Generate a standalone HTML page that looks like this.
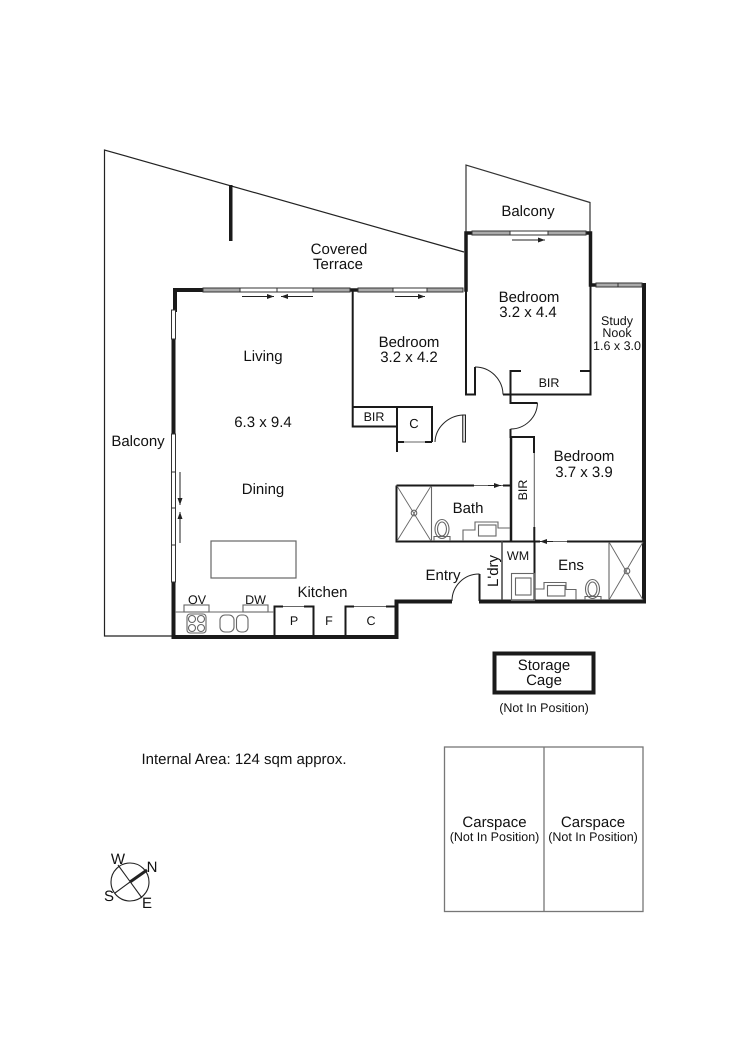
<!DOCTYPE html>
<html><head><meta charset="utf-8"><style>
html,body{margin:0;padding:0;background:#fff}
svg{display:block}
text{font-family:"Liberation Sans",Arial,sans-serif;fill:#111;text-anchor:middle;text-rendering:geometricPrecision}
.t15{font-size:15px}.t12{font-size:12.5px}
</style></head><body>
<svg width="750" height="1062" viewBox="0 0 750 1062" xmlns="http://www.w3.org/2000/svg">
<rect width="750" height="1062" fill="#fff"/>
<defs>
<marker id="ah" markerWidth="8" markerHeight="6" refX="7" refY="2.5" orient="auto" markerUnits="userSpaceOnUse"><path d="M0 0L7 2.5L0 5Z" fill="#222"/></marker>
</defs>
<!-- terraces -->
<g fill="none" stroke="#222" stroke-width="1.2">
<path d="M464 252L104.500 150V636H173"/>
<path d="M466 232V165L590 202.500V232" stroke="#333"/>
</g>
<rect x="229" y="185" width="3.500" height="56" fill="#1a1a1a"/>

<!-- thick walls -->
<g fill="none" stroke="#1a1a1a" stroke-width="4" stroke-linecap="square">
<path d="M203 290H175V310"/>
<path d="M173.500 339V434" />
<path d="M173.500 582V637H396.500V601.500H450"/>
<path d="M481 601.500H644V285H642"/>
<path d="M352 290H358" stroke-width="3.500"/>
<path d="M466 290V233H470" stroke-width="3.500"/>
<path d="M586 233H590.500V285H595" stroke-width="3.500"/>
</g>
<!-- medium walls -->
<g fill="none" stroke="#1a1a1a" stroke-width="2">
<path d="M352.700 290V426.500H397"/>
<path d="M353 407H432V442"/>
<path d="M397 407V452"/>
<path d="M466 290V394.500H475V367"/>
<path d="M503 394.500H590.500V285"/>
<path d="M510.500 394.500V371H521M580 371H590"/>
<path d="M510.500 394.500V403H537.500"/>
<path d="M510.500 429V437H534V453" />
<path d="M534.300 527V541"/>
<path d="M511 437V541" stroke-width="2.500"/>
<path d="M396.500 485.500H474M503 485.500H511"/>
<path d="M396.500 485.500V541.500H534"/>
<path d="M534 541.500H540M567 541.500H644"/>
<path d="M534.500 541V601"/>
<path d="M479.500 574V601"/>
<path d="M397 442H404M425 442H432"/>
<path d="M274.500 637V606.500H283M304 606.500H313.500V637"/>
<path d="M345.500 637V606.500H354M386 606.500H396"/>
</g>
<!-- grey thin lines -->
<g fill="none" stroke="#666" stroke-width="1.100">
<path d="M404 442H425"/>
<path d="M283 606.500H304M354 606.500H386"/>
<path d="M534.300 453V527"/>
<path d="M431.500 486V541"/>
<path d="M609 542V600"/>
<path d="M502 541V600" stroke-width="1.500" stroke="#444"/>
<path d="M175 612H274"/>
<path d="M474 485.500H503" />
<path d="M540 541.500H567"/>
<rect x="211" y="541" width="85" height="37" stroke-width="1.200"/>
<rect x="184" y="605" width="25" height="7"/>
<rect x="243" y="605" width="25" height="7"/>
<rect x="187" y="614" width="19" height="19" rx="3"/>
<circle cx="192" cy="619" r="3.500"/><circle cx="201" cy="619" r="3.500"/>
<circle cx="192" cy="628" r="3.500"/><circle cx="201" cy="628" r="3.500"/>
<rect x="220" y="615" width="14" height="17" rx="5"/>
<rect x="236.500" y="615" width="11.500" height="17" rx="4.500"/>
<path d="M397 486L431 541M431 486L397 541" stroke-width=".9"/>
<path d="M609 542L643 600M643 542L609 600" stroke-width=".9"/>
<circle cx="414" cy="513" r="2.800"/><circle cx="627" cy="571" r="2.800"/>
<ellipse cx="442" cy="529" rx="7" ry="9.500"/><ellipse cx="442" cy="529" rx="4.500" ry="7"/>
<path d="M434 541V536.500H450V541"/>
<ellipse cx="592.500" cy="589" rx="7" ry="9.500"/><ellipse cx="592.500" cy="589" rx="4.500" ry="7"/>
<path d="M585 600V596.500H601V600"/>
<path d="M463 541V530H475V522H498V528H510"/>
<rect x="478.500" y="525" width="17.500" height="11"/>
<path d="M535 589H544V582.500H566V589.500H576V600"/>
<rect x="547.500" y="585.500" width="17.500" height="10.500"/>
<rect x="511.500" y="573.500" width="23" height="27"/>
<rect x="515.500" y="578" width="15.500" height="17"/>
</g>
<!-- door arcs -->
<g fill="none" stroke="#222" stroke-width="1">
<path d="M475 367A28 28 0 0 1 503 394.500"/>
<path d="M537.500 403A27 27 0 0 1 510.500 429"/>
<path d="M463 415A30 28 0 0 0 435 442"/>
<path d="M479.500 574A27 27 0 0 0 452 601"/>
</g>
<path d="M462.700 415V442H465.500V415Z" fill="#ddd" stroke="#222" stroke-width="1"/>
<!-- windows -->
<g stroke="#333" stroke-width="1">
<g fill="#aaa">
<rect x="203" y="288" width="37" height="4"/><rect x="313" y="288" width="37" height="4"/>
<rect x="358" y="288" width="35" height="4"/><rect x="427" y="288" width="36" height="4"/>
<rect x="472" y="231" width="38" height="4"/><rect x="548" y="231" width="38" height="4"/>
<rect x="596" y="283" width="22" height="4"/><rect x="618" y="283" width="24" height="4"/>
</g>
<g fill="#fff">
<rect x="240" y="288" width="37" height="4"/><rect x="277" y="288" width="36" height="4"/>
<rect x="393" y="288" width="34" height="4"/>
<rect x="510" y="231" width="38" height="4"/>
<rect x="171.500" y="310" width="4" height="29"/>
<rect x="171.500" y="434" width="4" height="38"/><rect x="171.500" y="472" width="4" height="36"/>
<rect x="171.500" y="508" width="4" height="37"/><rect x="171.500" y="545" width="4" height="37"/>
</g>
</g>
<!-- arrows -->
<g stroke="#222" stroke-width="1" fill="none" marker-end="url(#ah)">
<path d="M242 296.500H274"/>
<path d="M313 296.500H281"/>
<path d="M395 296.500H425"/>
<path d="M512 240H545"/>
<path d="M180 472V505"/>
<path d="M180 543V512"/>
<path d="M488 485.500H501"/>
<path d="M553 541.500H540"/>
</g>
<!-- compass -->
<g fill="none" stroke="#222" stroke-width="1.100">
<circle cx="130" cy="882" r="19"/>
<path d="M118 865L142 898"/>
<path d="M115 893L130 882"/>
<path d="M130 882L147 870" stroke-width="3"/>
</g>
<!-- storage/car -->
<rect x="494.500" y="653.500" width="99" height="39" fill="none" stroke="#1a1a1a" stroke-width="4"/>
<g fill="none" stroke="#777" stroke-width="1.300">
<rect x="444.500" y="747" width="198.500" height="164.500"/>
<path d="M544 747V911.500"/>
</g>
<!-- labels -->
<g class="t15">
<text x="339" y="254">Covered</text><text x="338" y="269">Terrace</text>
<text x="528" y="216">Balcony</text>
<text x="138" y="446">Balcony</text>
<text x="263" y="361">Living</text>
<text x="263" y="427">6.3 x 9.4</text>
<text x="263" y="494">Dining</text>
<text x="322.500" y="597">Kitchen</text>
<text x="409" y="347">Bedroom</text><text x="409" y="362">3.2 x 4.2</text>
<text x="529" y="302">Bedroom</text><text x="528" y="317">3.2 x 4.4</text>
<text x="584" y="461">Bedroom</text><text x="584" y="477">3.7 x 3.9</text>
<text x="468" y="513">Bath</text>
<text x="571" y="570">Ens</text>
<text x="443" y="580">Entry</text>
<text x="544" y="670">Storage</text><text x="544" y="685">Cage</text>
<text x="494.500" y="827">Carspace</text><text x="593" y="827">Carspace</text>
<text x="244" y="764">Internal Area: 124 sqm approx.</text>
<text x="118" y="864">W</text>
<text x="152" y="872">N</text>
<text x="109" y="901">S</text>
<text x="147" y="908">E</text>
<text transform="translate(498 571) rotate(-90)">L'dry</text>
</g>
<g class="t12">
<text x="617" y="325">Study</text><text x="617" y="337">Nook</text><text x="617" y="350">1.6 x 3.0</text>
<text x="549" y="387">BIR</text>
<text x="374" y="421">BIR</text>
<text x="414" y="428" style="font-size:13px">C</text>
<text x="294" y="625">P</text>
<text x="329" y="625">F</text>
<text x="371" y="625">C</text>
<text x="197" y="604">OV</text>
<text x="255.500" y="604">DW</text>
<text x="518" y="560">WM</text>
<text x="544" y="712">(Not In Position)</text>
<text x="494.500" y="841">(Not In Position)</text>
<text x="593" y="841">(Not In Position)</text>
<text transform="translate(527 490) rotate(-90)">BIR</text>
</g>
</svg>
</body></html>
